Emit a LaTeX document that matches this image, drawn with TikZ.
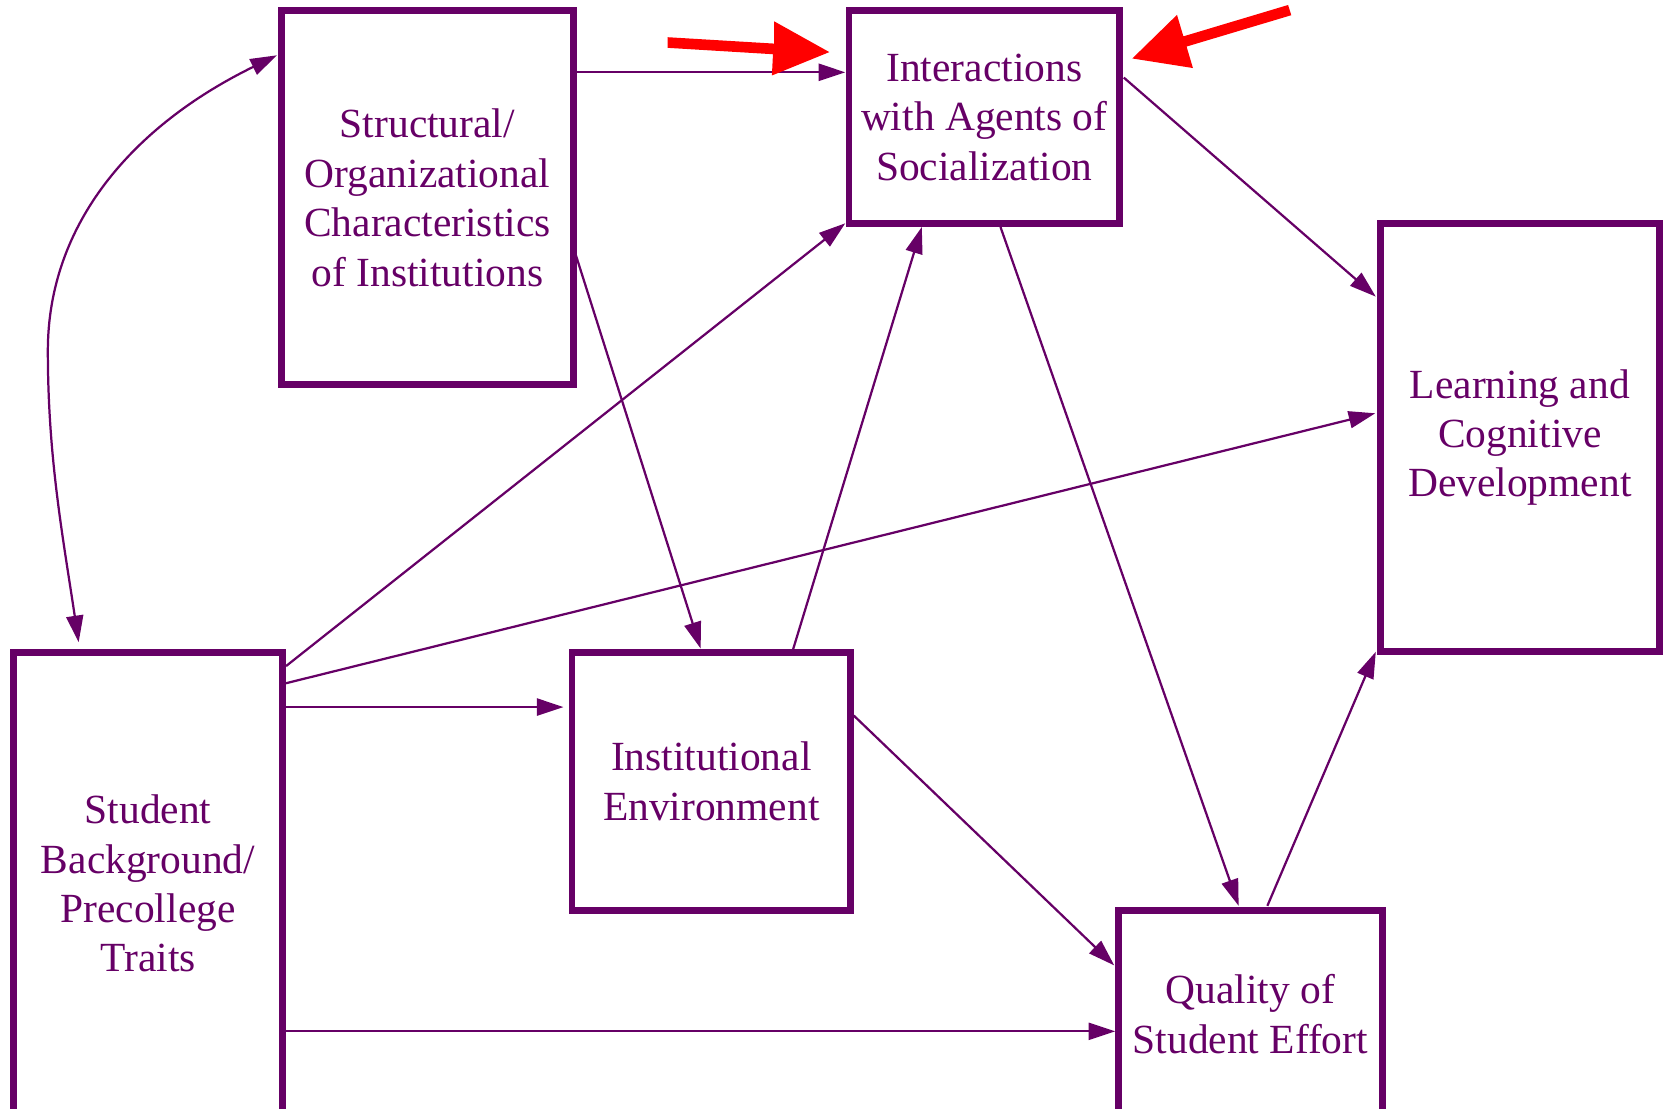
\documentclass[tikz,border=0pt]{standalone}
\usepackage{fontspec}
\setmainfont{Liberation Serif}
\usetikzlibrary{arrows.meta,calc}
\definecolor{plum}{HTML}{660066}
\definecolor{alarm}{HTML}{FF0000}
\begin{document}
\begin{tikzpicture}[x=1pt,y=-1pt,
  box/.style={draw=plum,line width=6.5pt,inner sep=0pt,outer sep=0pt,align=center,
    text=plum,font=\fontsize{39}{46.5}\selectfont},
  conn/.style={draw=plum,line width=2.1pt,-{Triangle[length=25pt,width=16pt]}},
  twoway/.style={draw=plum,line width=2.1pt,{Triangle[length=25pt,width=16pt]}-{Triangle[length=25pt,width=16pt]}},
  redmark/.style={fill=alarm,draw=none}]
\useasboundingbox (0,0) rectangle (1566,1043);
\clip (0,0) rectangle (1566,1043);

\node[box,minimum width=274pt,minimum height=352pt] (struct) at (402,186)
  {Structural/\\Organizational\\Characteristics\\of Institutions};
\node[box,minimum width=254.5pt,minimum height=200.5pt] (inter) at (925.75,110.25)
  {Interactions\\with Agents of\\Socialization};
\node[box,minimum width=263pt,minimum height=403pt] (learn) at (1429.5,411.5)
  {Learning and\\Cognitive\\Development};
\node[box,minimum width=252.5pt,minimum height=434pt] (student) at (139.25,831)
  {Student\\Background/\\Precollege\\Traits};
\node[box,minimum width=262pt,minimum height=242pt] (inst) at (669,735)
  {Institutional\\Environment};
\node[box,minimum width=248pt,minimum height=196pt] (qual) at (1176,954)
  {Quality of\\Student Effort};

% connectors
\draw[conn] ($(struct.north east)+(3,58)$) -- ($(inter.north west)+(-3.5,58)$);
\draw[conn] ($(struct.north east)+(2,228)$) -- ($(inst.north west)+(121,-4)$);
\draw[twoway] ($(student.north west)+(61,-10)$) .. controls (59,504) and (45,430) .. (45,330)
  .. controls (45,210) and (125.5,118) .. ($(struct.north west)+(-4.5,42)$);
\draw[conn] ($(inter.north east)+(4,63)$) -- ($(learn.north west)+(-4,69)$);
\draw[conn] ($(inter.south west)+(142.5,3)$) -- ($(qual.north west)+(113,-4)$);
\draw[conn] ($(student.north east)+(3.5,12.5)$) -- ($(inter.south west)+(-3.5,-0.5)$);
\draw[conn] ($(student.north east)+(3.5,28.6)$) -- ($(learn.north west)+(-4.5,178.7)$);
\draw[conn] ($(student.north east)+(3.5,51)$) -- ($(inst.north west)+(-8,51)$);
\draw[conn] ($(student.north east)+(3.5,356)$) -- ($(qual.north west)+(-3,114)$);
\draw[conn] ($(inst.north west)+(208,-3.5)$) -- ($(inter.south west)+(68.5,3)$);
\draw[conn] ($(inst.north east)+(3,59)$) -- ($(qual.north west)+(-4,52)$);
\draw[conn] ($(qual.north west)+(140,-4)$) -- ($(learn.south west)+(-4,0)$);

% red marker arrows
\fill[redmark] (628,35) -- (728,41) -- (728,20) -- (780,49) -- (726,71) -- (727,51) -- (628,45) -- cycle;
\fill[redmark] (1211.5,4.7) -- (1113,34.2) -- (1107,14) -- (1065,55) -- (1122,64) -- (1116,43.8) -- (1214.5,14.3) -- cycle;
\end{tikzpicture}
\end{document}
